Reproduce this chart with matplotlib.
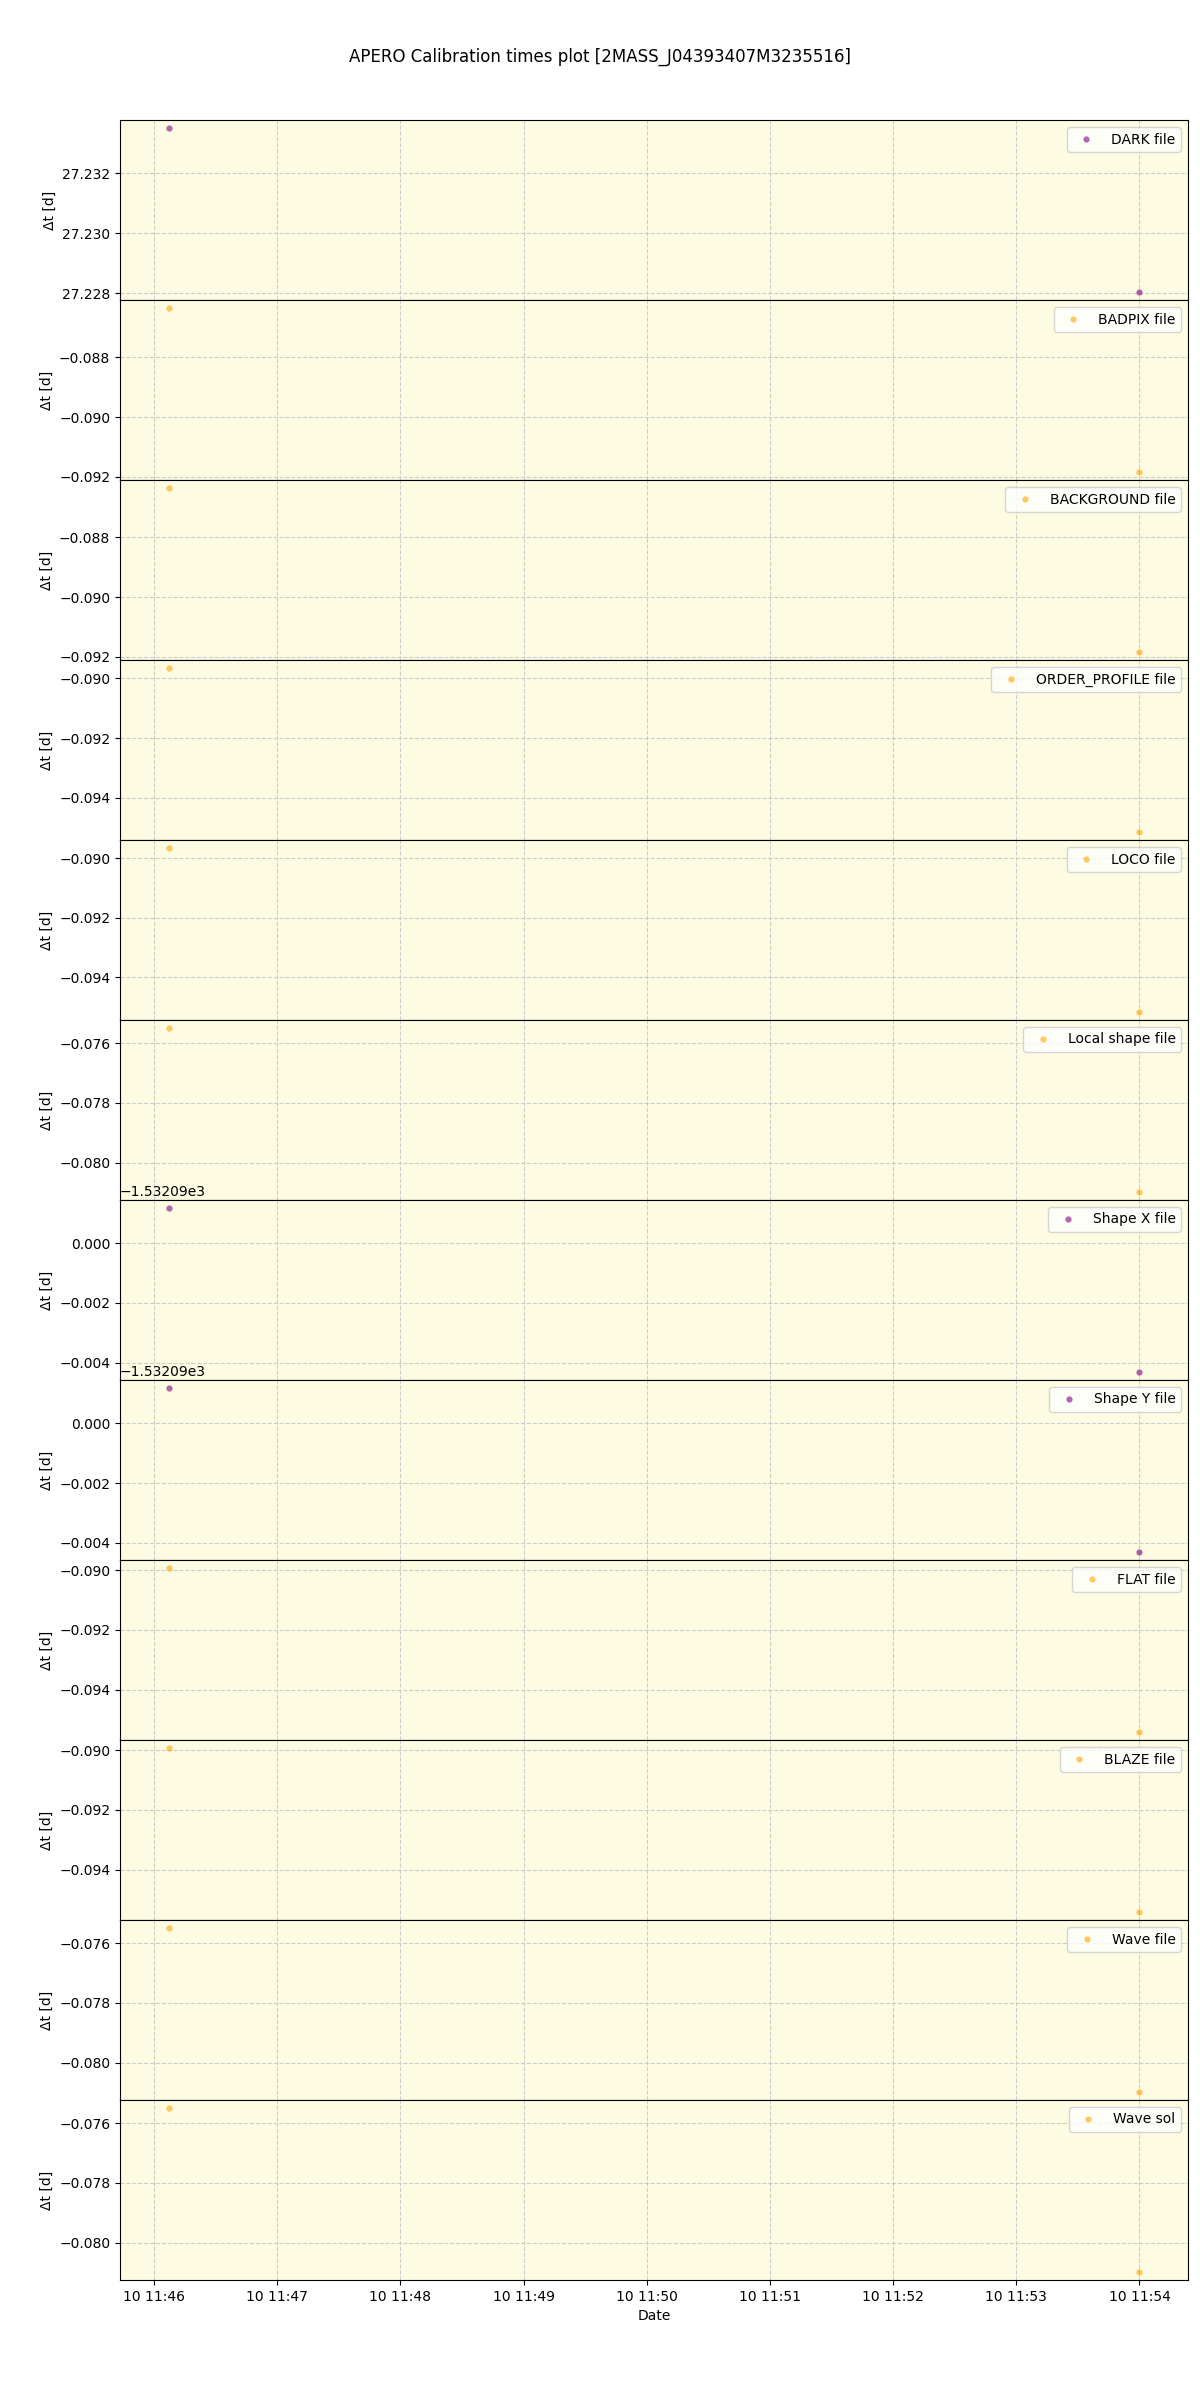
import matplotlib
matplotlib.use("Agg")
import matplotlib.pyplot as plt
import pandas as pd

obs_times = ["2020-11-10 11:46:07", "2020-11-10 11:54:00"]

labels = ["DARK file", "BADPIX file", "BACKGROUND file", "ORDER_PROFILE file",
          "LOCO file", "Local shape file", "Shape X file", "Shape Y file",
          "FLAT file", "BLAZE file", "Wave file", "Wave sol"]

dark_dt = [27.23351, 27.22804]
badpix_dt = [-0.08635, -0.09183]
background_dt = [-0.08635, -0.09183]
order_profile_dt = [-0.08966, -0.09514]
loco_dt = [-0.08967, -0.09515]
local_shape_dt = [-0.07550, -0.08097]
shape_x_dt = [-1532.088833, -1532.094310]
shape_y_dt = [-1532.088824, -1532.094300]
flat_dt = [-0.08993, -0.09541]
blaze_dt = [-0.08993, -0.09541]
wave_file_dt = [-0.07550, -0.08097]
wave_sol_dt = [-0.07550, -0.08097]

series = [dark_dt, badpix_dt, background_dt, order_profile_dt, loco_dt,
          local_shape_dt, shape_x_dt, shape_y_dt, flat_dt, blaze_dt,
          wave_file_dt, wave_sol_dt]
colors = ["purple", "orange", "orange", "orange", "orange", "orange",
          "purple", "purple", "orange", "orange", "orange", "orange"]

times = pd.to_datetime(obs_times)

fig, axes = plt.subplots(len(labels), 1, figsize=(12, 24), dpi=100, sharex=True)
fig.subplots_adjust(left=0.1, right=0.99, top=0.95, bottom=0.05, hspace=0)

for ax, lab, vals, col in zip(axes, labels, series, colors):
    ax.set_facecolor("#fdfbe2")
    ax.plot(times, vals, linestyle="none", marker="o", markersize=4.5,
            color=col, alpha=0.6, markeredgewidth=0, label=lab)
    ax.grid(True, linestyle="--", color="#c8c8c8", alpha=0.9)
    ax.set_axisbelow(True)
    ax.set_ylabel("Δt [d]")
    ax.legend(loc="upper right")

axes[-1].set_xlabel("Date")
fig.suptitle("APERO Calibration times plot [2MASS_J04393407M3235516]")
fig.savefig("out.png")
